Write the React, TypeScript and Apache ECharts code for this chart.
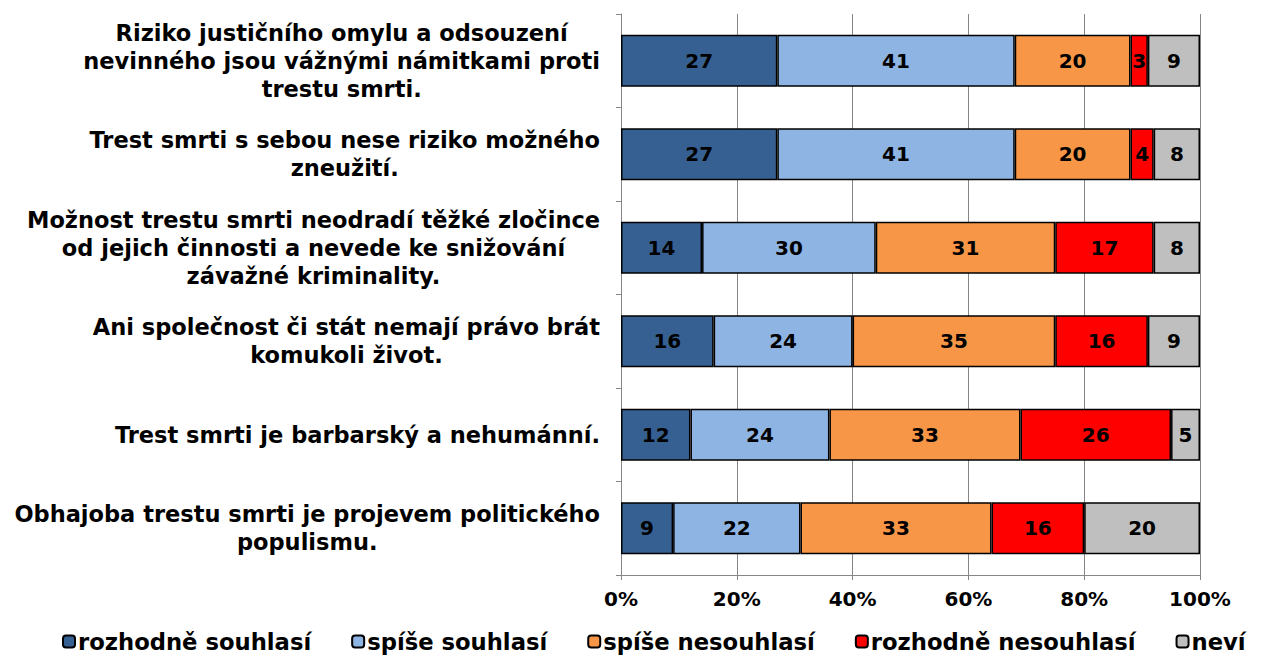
import React, { useEffect, useRef } from "react";
import * as echarts from "echarts";

const categories = [
  "Riziko justičního omylu a odsouzení\nnevinného jsou vážnými námitkami proti\ntrestu smrti.",
  "Trest smrti s sebou nese riziko možného\nzneužití.",
  "Možnost trestu smrti neodradí těžké zločince\nod jejich činnosti a nevede ke snižování\nzávažné kriminality.",
  "Ani společnost či stát nemají právo brát\nkomukoli život.",
  "Trest smrti je barbarský a nehumánní.",
  "Obhajoba trestu smrti je projevem politického\npopulismu.",
];

const seriesNames = [
  "rozhodně souhlasí",
  "spíše souhlasí",
  "spíše nesouhlasí",
  "rozhodně nesouhlasí",
  "neví",
];

const rozhodneSouhlasi = [27, 27, 14, 16, 12, 9];
const spiseSouhlasi = [41, 41, 30, 24, 24, 22];
const spiseNesouhlasi = [20, 20, 31, 35, 33, 33];
const rozhodneNesouhlasi = [3, 4, 17, 16, 26, 16];
const nevi = [9, 8, 8, 9, 5, 20];

const colors = ["#376092", "#8EB4E3", "#F79646", "#FF0000", "#BFBFBF"];

const FONT = "'DejaVu Sans', Verdana, sans-serif";

export default function App() {
  const ref = useRef<HTMLDivElement>(null);
  useEffect(() => {
    if (!ref.current) return;
    const chart = echarts.init(ref.current, null, { renderer: "svg" });
    const values = [rozhodneSouhlasi, spiseSouhlasi, spiseNesouhlasi, rozhodneNesouhlasi, nevi];
    chart.setOption({
      animation: false,
      backgroundColor: "#ffffff",
      textStyle: { fontFamily: FONT },
      grid: { left: 621, right: 69, top: 14, bottom: 85, containLabel: false },
      legend: {
        left: 57,
        top: 625,
        itemWidth: 12,
        itemHeight: 12,
        itemGap: 40,
        textStyle: { fontFamily: FONT, fontWeight: "bold", fontSize: 22.7, color: "#000", padding: [0, 0, 0, -2] },
        data: seriesNames,
      },
      xAxis: {
        type: "value",
        min: 0,
        max: 100,
        interval: 20,
        axisLine: { show: true, lineStyle: { color: "#868686", width: 1 } },
        axisTick: { show: true, length: 5, lineStyle: { color: "#868686" } },
        splitLine: { show: true, lineStyle: { color: "#868686", width: 1 } },
        axisLabel: {
          formatter: "{value}%",
          fontFamily: FONT,
          fontWeight: "bold",
          fontSize: 20,
          color: "#000",
          margin: 14,
        },
      },
      yAxis: {
        type: "category",
        inverse: true,
        data: categories,
        axisLine: { show: true, lineStyle: { color: "#868686", width: 1 } },
        axisTick: { show: true, length: 5, lineStyle: { color: "#868686" } },
        axisLabel: {
          margin: 21,
          formatter: (v: string) => v.split("\n").map((l) => `{c|${l}}`).join("\n"),
          rich: {
            c: {
              align: "center",
              fontFamily: FONT,
              fontWeight: "bold",
              fontSize: 22.5,
              lineHeight: 28,
              color: "#000",
            },
          },
        },
      },
      series: seriesNames.map((name, i) => ({
        name,
        type: "bar",
        stack: "total",
        barWidth: 52,
        data: values[i],
        itemStyle: { color: colors[i], borderColor: "#000", borderWidth: 1.5 },
        label: {
          show: true,
          position: "inside",
          fontFamily: FONT,
          fontWeight: "bold",
          fontSize: 20,
          color: "#000",
        },
      })),
    });
    return () => chart.dispose();
  }, []);
  return (
    <div
      ref={ref}
      style={{ position: "absolute", left: 0, top: 0, width: 1269, height: 660 }}
    />
  );
}
